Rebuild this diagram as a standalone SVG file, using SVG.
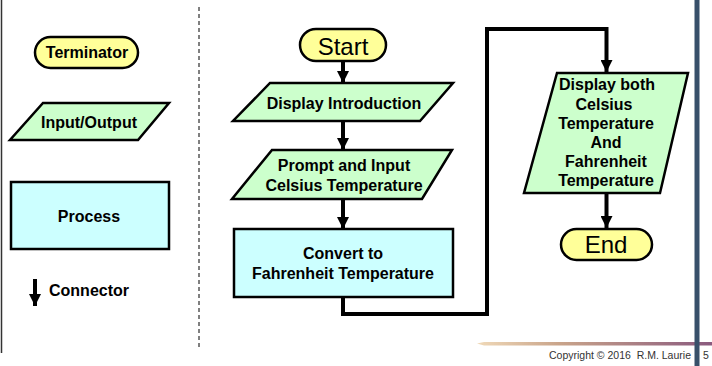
<svg xmlns="http://www.w3.org/2000/svg" width="712" height="366" viewBox="0 0 712 366">
  <defs>
    <style>
      .term { fill: #FFFF99; stroke: #000; stroke-width: 2.5; }
      .io { fill: #CCFFCC; stroke: #000; stroke-width: 2.5; stroke-linejoin: miter; }
      .proc { fill: #CCFFFF; stroke: #000; stroke-width: 2.5; }
      .lbl { font-family: "Liberation Sans", Arial, sans-serif; font-weight: bold; font-size: 16px; fill: #000; text-anchor: middle; }
      .big { font-family: "Liberation Sans", Arial, sans-serif; font-size: 24px; fill: #000; text-anchor: middle; }
      .conn { fill: none; stroke: #000; stroke-width: 4; }
      .copy { font-family: "Liberation Sans", Arial, sans-serif; font-size: 10.5px; fill: #333; white-space: pre; }
    </style>
    <marker id="arrow" viewBox="0 0 12 12" refX="12" refY="6" markerWidth="12" markerHeight="12" markerUnits="userSpaceOnUse" orient="auto">
      <path d="M0,0 L12,6 L0,12 Z" fill="#000"/>
    </marker>
    <linearGradient id="bottomLine" x1="0" y1="0" x2="1" y2="0">
      <stop offset="0" stop-color="#F0D9B8"/>
      <stop offset="0.35" stop-color="#C9A48A"/>
      <stop offset="1" stop-color="#8A5A7E"/>
    </linearGradient>
  </defs>

  <rect x="0" y="0" width="712" height="366" fill="#FFFFFF"/>

  <!-- slide decorations -->
  <g id="decor">
    <line x1="1.5" y1="0" x2="1.5" y2="353" stroke="#333" stroke-width="1.5"/>
    <line x1="199" y1="7" x2="199" y2="348" stroke="#000" stroke-width="1" stroke-dasharray="4,3"/>
    <path d="M477,343.5 L484,342 L712,342 L712,345.5 L484,345.5 Z" fill="url(#bottomLine)"/>
    <rect x="694.5" y="0" width="5" height="366" fill="#38506A"/>
    <text class="copy" x="549" y="359" xml:space="preserve">Copyright © 2016  R.M. Laurie</text>
    <text class="copy" x="703" y="359">5</text>
  </g>

  <!-- legend -->
  <g id="legend-terminator">
    <rect class="term" x="35" y="37" width="103" height="31" rx="15.5" ry="15.5"/>
    <text class="lbl" x="87" y="58">Terminator</text>
  </g>
  <g id="legend-io">
    <polygon class="io" points="43,103 169,103 138,140 10,140"/>
    <text class="lbl" x="89" y="128">Input/Output</text>
  </g>
  <g id="legend-process">
    <rect class="proc" x="11" y="182" width="158" height="67"/>
    <text class="lbl" x="89" y="222">Process</text>
  </g>
  <g id="legend-connector">
    <line x1="35" y1="279" x2="35" y2="306" stroke="#000" stroke-width="4" marker-end="url(#arrow)"/>
    <text class="lbl" x="49" y="296" style="text-anchor:start">Connector</text>
  </g>

  <!-- flowchart nodes -->
  <g id="start">
    <rect class="term" x="300" y="29" width="86" height="32" rx="16" ry="16"/>
    <text class="big" x="343" y="55">Start</text>
  </g>
  <g id="display-intro">
    <polygon class="io" points="270,83 453,83 420,121 233,121"/>
    <text class="lbl" x="344" y="109">Display Introduction</text>
  </g>
  <g id="prompt-input">
    <polygon class="io" points="272,150 452,150 422,199 232,199"/>
    <text class="lbl" x="344" y="171">Prompt and Input</text>
    <text class="lbl" x="344" y="190.5">Celsius Temperature</text>
  </g>
  <g id="convert">
    <rect class="proc" x="234" y="229" width="219" height="68"/>
    <text class="lbl" x="343" y="259">Convert to</text>
    <text class="lbl" x="343" y="279">Fahrenheit Temperature</text>
  </g>
  <g id="display-both">
    <polygon class="io" points="557,73 688,73 660,193 524,193"/>
    <text class="lbl" x="607" y="90">Display both</text>
    <text class="lbl" x="604" y="109.5">Celsius</text>
    <text class="lbl" x="606" y="128.5">Temperature</text>
    <text class="lbl" x="606" y="148">And</text>
    <text class="lbl" x="606" y="167">Fahrenheit</text>
    <text class="lbl" x="606" y="186">Temperature</text>
  </g>
  <g id="end">
    <rect class="term" x="561" y="229" width="91" height="31" rx="15.5" ry="15.5"/>
    <text class="big" x="606" y="253">End</text>
  </g>

  <!-- connectors -->
  <g id="connectors">
    <line class="conn" x1="343" y1="61" x2="343" y2="83" marker-end="url(#arrow)"/>
    <line class="conn" x1="343" y1="121" x2="343" y2="150" marker-end="url(#arrow)"/>
    <line class="conn" x1="343" y1="199" x2="343" y2="229" marker-end="url(#arrow)"/>
    <polyline class="conn" points="343,297 343,314 487,314 487,29 606.5,29 606.5,72" marker-end="url(#arrow)"/>
    <line class="conn" x1="606.5" y1="193" x2="606.5" y2="228" marker-end="url(#arrow)"/>
  </g>
</svg>
